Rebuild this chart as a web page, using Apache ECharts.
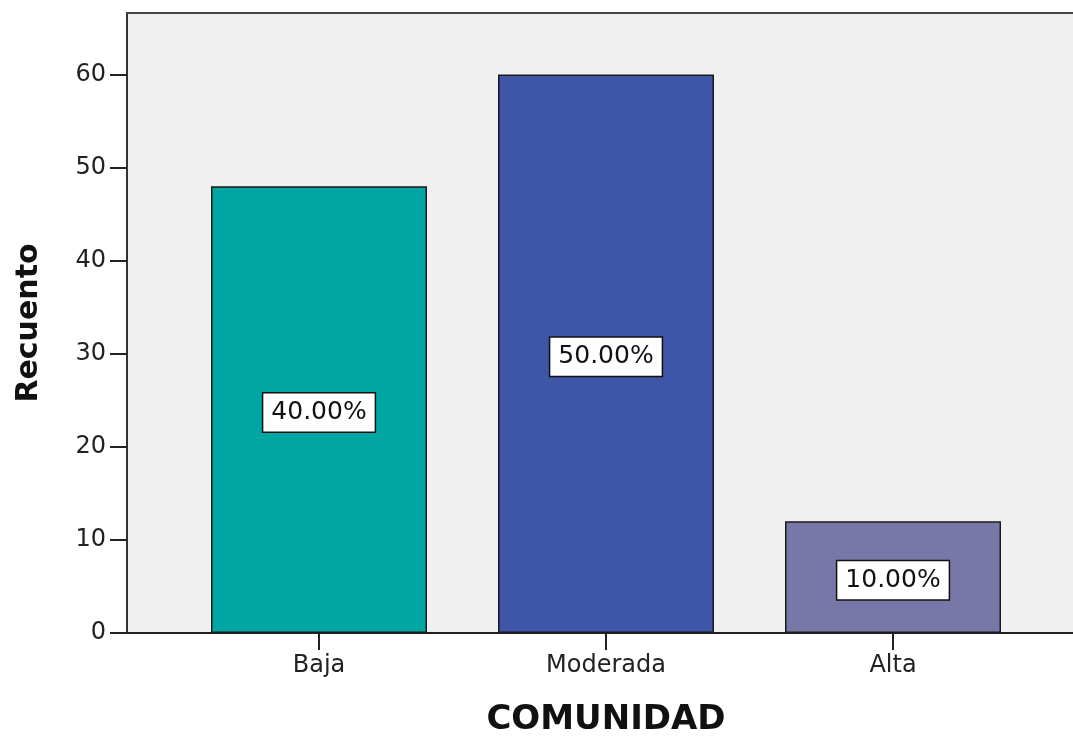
<!DOCTYPE html>
<html>
<head>
<meta charset="utf-8">
<script src="https://cdn.jsdelivr.net/npm/echarts@6/dist/echarts.min.js"></script>
<style>html,body{margin:0;padding:0;background:#fff}#c{width:1073px;height:736px}</style>
</head>
<body>
<div id="c"></div>
<script>
const categories = ['Baja', 'Moderada', 'Alta'];
const counts = [48, 60, 12];
const percents = ['40.00%', '50.00%', '10.00%'];
const barColors = ['#00a6a3', '#3e55a8', '#7878a8'];
const yTickValues = [0, 10, 20, 30, 40, 50, 60];
const yRange = { min: 0, max: 66.6, interval: 10 };

const FONT = '"DejaVu Sans", "Liberation Sans", Arial, sans-serif';
const chart = echarts.init(document.getElementById('c'), null, { renderer: 'canvas' });

chart.setOption({
  animation: false,
  textStyle: { fontFamily: FONT },
  grid: [
    { left: 127, right: -20, top: 13, bottom: 103, show: true, backgroundColor: '#f0f0f0', borderWidth: 0, outerBoundsMode: 'none', containLabel: false },
    { left: 175.5, right: 36.5, top: 13, bottom: 103, outerBoundsMode: 'none', containLabel: false }
  ],
  xAxis: [
    { gridIndex: 0, type: 'value', min: 0, max: 1, position: 'bottom',
      axisLine: { show: true, lineStyle: { color: '#222', width: 2 } },
      axisTick: { show: false }, axisLabel: { show: false }, splitLine: { show: false } },
    { gridIndex: 0, type: 'value', min: 0, max: 1, position: 'top',
      axisLine: { show: true, onZero: false, lineStyle: { color: '#444', width: 2 } },
      axisTick: { show: false }, axisLabel: { show: false }, splitLine: { show: false } },
    { gridIndex: 1, type: 'category', data: categories, position: 'bottom',
      axisLine: { show: false },
      axisTick: { show: true, alignWithLabel: true, length: 17, lineStyle: { color: '#222', width: 2 } },
      axisLabel: { margin: 21, fontSize: 24, color: '#222', fontFamily: FONT },
      name: 'COMUNIDAD', nameLocation: 'middle', nameGap: 70,
      nameTextStyle: { fontSize: 34, fontWeight: 'bold', color: '#111', fontFamily: FONT } }
  ],
  yAxis: [
    { gridIndex: 0, type: 'value', min: yRange.min, max: yRange.max, interval: yRange.interval,
      axisLine: { show: true, lineStyle: { color: '#333', width: 2 } },
      axisTick: { show: true, length: 17, customValues: yTickValues, lineStyle: { color: '#222', width: 2 } },
      axisLabel: { fontSize: 24, color: '#222', margin: 21, fontFamily: FONT, customValues: yTickValues },
      splitLine: { show: false },
      name: 'Recuento', nameLocation: 'middle', nameGap: 83,
      nameTextStyle: { fontSize: 30, fontWeight: 'bold', color: '#111', fontFamily: FONT } },
    { gridIndex: 1, type: 'value', min: yRange.min, max: yRange.max, interval: yRange.interval, show: false }
  ],
  series: [{
    type: 'bar',
    xAxisIndex: 2, yAxisIndex: 1,
    barWidth: 216,
    data: counts.map((v, i) => ({
      value: v,
      itemStyle: { color: barColors[i], borderColor: '#1a1a1a', borderWidth: 1.5 }
    })),
    label: {
      show: true, position: 'inside', offset: [0, 3],
      formatter: p => percents[p.dataIndex],
      fontSize: 25, color: '#111', fontFamily: FONT,
      backgroundColor: '#fff', borderColor: '#111', borderWidth: 1.5,
      padding: [7, 8, 6, 8]
    }
  }]
});
</script>
</body>
</html>
